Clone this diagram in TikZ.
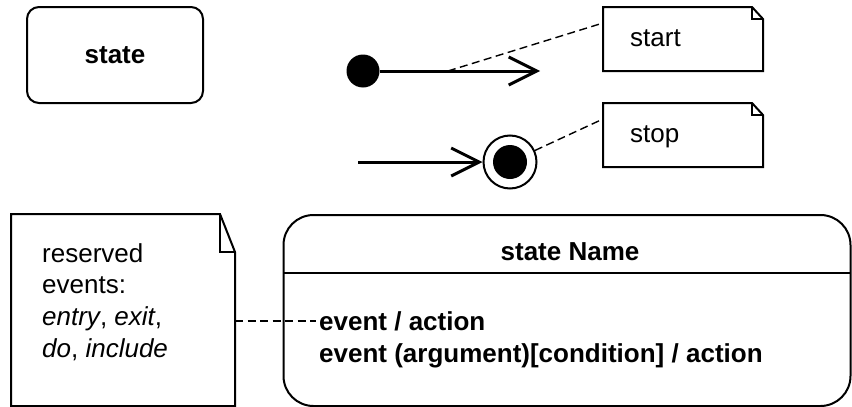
\documentclass[tikz,border=0pt]{standalone}
\usepackage{fontspec}
\setmainfont{Liberation Sans}
\usetikzlibrary{arrows.meta,calc}
\begin{document}
\begin{tikzpicture}[x=1pt,y=-1pt,
  box/.style={draw, line width=2pt, inner sep=0pt, outer sep=0pt},
  notearea/.style={inner sep=0pt, outer sep=0pt},
  trans/.style={line width=3pt, -{Straight Barb[length=28pt,width=28pt,line width=3pt]}},
  link/.style={line width=1.4pt, dash pattern=on 8pt off 4.5pt},
  txt/.style={font=\fontsize{26}{31.5}\selectfont, inner sep=0pt, anchor=base west},
  btxt/.style={font=\fontsize{26}{31.5}\selectfont\bfseries, inner sep=0pt},
  dotnode/.style={circle, fill=black, inner sep=0pt}
]
\useasboundingbox (0,0) rectangle (852,407);

% simple state
\node[box, rounded corners=12pt, minimum width=176pt, minimum height=96pt, font=\fontsize{26}{31.5}\selectfont\bfseries] (state) at (115,55) {state};

% initial state
\node[dotnode, minimum size=33pt] (init) at (363,71) {};
\coordinate (inittip) at (540,71);
\draw[trans] (init) -- (inittip);
\coordinate (initmid) at ($(init.center)!0.48!(inittip)$);

% start note
\node[notearea, minimum width=160pt, minimum height=64pt] (startnote) at (683,39) {};
\draw[line width=2pt, line join=miter] (startnote.north west) -- ($(startnote.north east)+(-11,0)$) -- ($(startnote.north east)+(0,12)$) -- (startnote.south east) -- (startnote.south west) -- cycle;
\draw[line width=2pt] ($(startnote.north east)+(-11,0)$) |- ($(startnote.north east)+(0,12)$);
\node[txt] (starttxt) at (630,46) {start};
\draw[link] (initmid) -- ($(startnote.north west)!0.25!(startnote.south west)$);

% final state
\node[circle, draw, line width=2pt, inner sep=0pt, minimum size=53pt] (final) at (510,162) {};
\node[dotnode, minimum size=34pt] (finaldot) at (final.center) {};
\coordinate (finalsrc) at (358,162);
\draw[trans] (finalsrc) -- (final.west);

% stop note
\node[notearea, minimum width=160pt, minimum height=64pt] (stopnote) at (683,135) {};
\draw[line width=2pt, line join=miter] (stopnote.north west) -- ($(stopnote.north east)+(-11,0)$) -- ($(stopnote.north east)+(0,12)$) -- (stopnote.south east) -- (stopnote.south west) -- cycle;
\draw[line width=2pt] ($(stopnote.north east)+(-11,0)$) |- ($(stopnote.north east)+(0,12)$);
\node[txt] (stoptxt) at (630,142) {stop};
\draw[link] (final) -- ($(stopnote.north west)!0.25!(stopnote.south west)$);

% reserved events note
\node[notearea, minimum width=224pt, minimum height=192pt] (resnote) at (123,310) {};
\draw[line width=2pt, line join=miter] (resnote.north west) -- ($(resnote.north east)+(-15,0)$) -- ($(resnote.north east)+(0,38)$) -- (resnote.south east) -- (resnote.south west) -- cycle;
\draw[line width=2pt] ($(resnote.north east)+(-15,0)$) |- ($(resnote.north east)+(0,38)$);
\node[txt] (res1) at (42,262) {reserved};
\node[txt] (res2) at (42,293.7) {events:};
\node[txt] (res3) at (42,325.4) {\textit{entry}, \textit{exit},};
\node[txt] (res4) at (42,357.1) {\textit{do}, \textit{include}};

% composite state
\node[box, rounded corners=30pt, minimum width=567pt, minimum height=191pt] (sname) at (567,310.5) {};
\draw[line width=2pt] ($(sname.north west)+(0,58)$) -- ($(sname.north east)+(0,58)$);
\node[btxt, anchor=base] (snametxt) at (570,260) {state Name};
\node[btxt, anchor=base west] (ev1) at (319,330) {event / action};
\node[btxt, anchor=base west] (ev2) at (319,362) {event (argument)[condition] / action};

\draw[link, shorten >=3pt] (resnote.east |- ev1.west) -- (ev1.west);
\end{tikzpicture}
\end{document}
